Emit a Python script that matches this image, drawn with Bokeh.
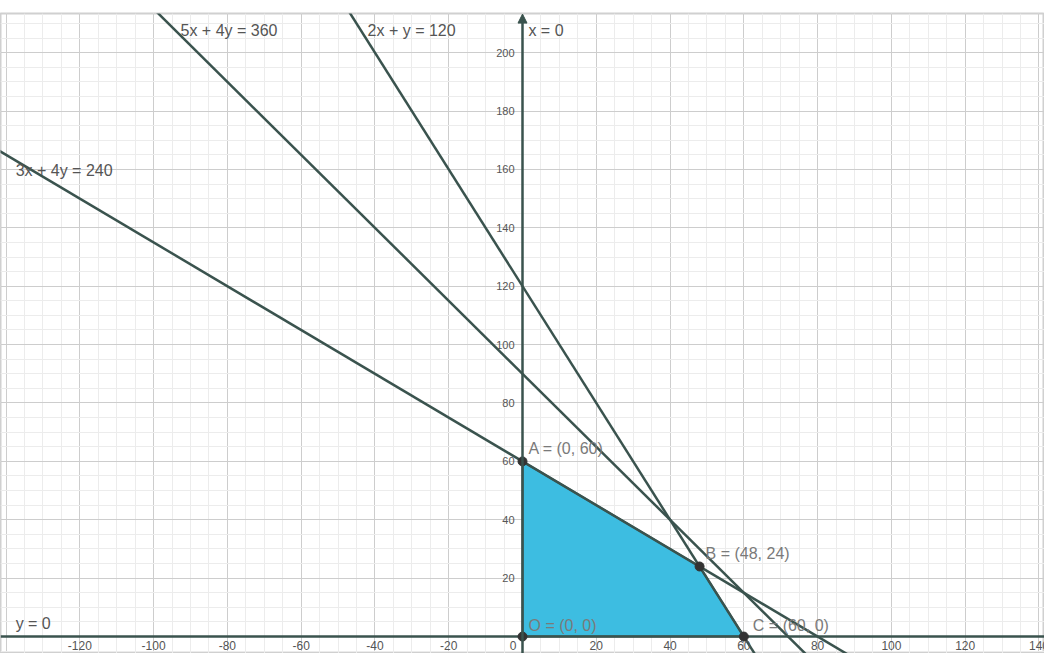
from bokeh.plotting import figure
from bokeh.models import Grid, SingleIntervalTicker, Range1d, Arrow, NormalHead, ColumnDataSource
from bokeh.core.properties import value
from bokeh.embed import file_html
from bokeh.resources import INLINE

# constraint lines a*x + b*y = c
line_a = [5, 2, 3]
line_b = [4, 1, 4]
line_c = [360, 120, 240]
line_labels = ["5x + 4y = 360", "2x + y = 120", "3x + 4y = 240"]
line_label_x = [-92.7, -42.0, -137.4]
line_label_y = [207.5, 207.5, 159.6]

# feasible region vertices
region_x = [0, 0, 48, 60]
region_y = [0, 60, 24, 0]

# labelled points
point_x = [0, 48, 60, 0]
point_y = [60, 24, 0, 0]
point_labels = ["A = (0, 60)", "B = (48, 24)", "C = (60, 0)", "O = (0, 0)"]
label_dx = [6, 6, 9, 6]
label_dy = [-13, -13, -11, -11]

# axis tick labels
x_ticks = [-120, -100, -80, -60, -40, -20, 20, 40, 60, 80, 100, 120, 140]
y_ticks = [20, 40, 60, 80, 100, 120, 140, 160, 180, 200]

X0, X1 = -141.5, 141.5
Y0, Y1 = -5.8, 213.4

LINE = "#3a534e"
FONT = value("Liberation Sans")

p = figure(width=1044, height=653, output_backend="svg", toolbar_location=None,
           x_axis_location=None, y_axis_location=None,
           x_range=Range1d(X0, X1), y_range=Range1d(Y0, Y1),
           min_border_left=0, min_border_right=0, min_border_bottom=0, min_border_top=13)
p.outline_line_color = "#d0d0d0"
p.outline_line_width = 2
p.background_fill_color = "white"

for dim in (0, 1):
    g = Grid(dimension=dim, ticker=SingleIntervalTicker(interval=20, num_minor_ticks=4))
    g.grid_line_color = "#cdcdcd"
    g.grid_line_width = 1
    g.minor_grid_line_color = "#ececec"
    g.minor_grid_line_width = 1
    p.add_layout(g)

# feasible region
p.patch(region_x, region_y, fill_color="#3dbde1", fill_alpha=1.0, line_color=LINE, line_width=2)

# axes
p.line([X0, X1], [0, 0], line_color=LINE, line_width=2.5)
p.add_layout(Arrow(end=NormalHead(size=9, fill_color=LINE, line_color=LINE),
                   x_start=0, y_start=Y0, x_end=0, y_end=Y1 - 0.2,
                   line_color=LINE, line_width=2.5))

# constraint lines
for a, b, c in zip(line_a, line_b, line_c):
    xs = [X0 - 10, X1 + 10]
    ys = [(c - a * x) / b for x in xs]
    p.line(xs, ys, line_color=LINE, line_width=2.5)

# equation labels
p.text(line_label_x, line_label_y, text=line_labels, text_font=FONT, text_font_size="16px",
       text_color="#555555", text_baseline="middle", text_align="left")
p.text([1.6], [207.5], text=["x = 0"], text_font=FONT, text_font_size="16px",
       text_color="#555555", text_baseline="middle", text_align="left")
p.text([-137.4], [4.5], text=["y = 0"], text_font=FONT, text_font_size="16px",
       text_color="#555555", text_baseline="middle", text_align="left")

# tick labels
p.text(x_ticks, [0] * len(x_ticks), text=[str(t) for t in x_ticks], text_font=FONT,
       text_font_size="12px", text_color="#555555", text_baseline="top", text_align="center",
       y_offset=4)
p.text([0], [0], text=["0"], text_font=FONT, text_font_size="12px", text_color="#555555",
       text_baseline="top", text_align="right", x_offset=-6, y_offset=4)
p.text([0] * len(y_ticks), y_ticks, text=[str(t) for t in y_ticks], text_font=FONT,
       text_font_size="11px", text_color="#555555", text_baseline="middle", text_align="right",
       x_offset=-8)

# points and their labels
src = ColumnDataSource(dict(x=point_x, y=point_y, label=point_labels, dx=label_dx, dy=label_dy))
p.scatter("x", "y", source=src, size=9, fill_color="#333333", line_color="#333333")
p.text("x", "y", text="label", source=src, text_font=FONT, text_font_size="16px",
       text_color="#7a7a7a", text_baseline="middle", text_align="left",
       x_offset="dx", y_offset="dy")

open("out.html", "w").write(file_html(p, INLINE))
